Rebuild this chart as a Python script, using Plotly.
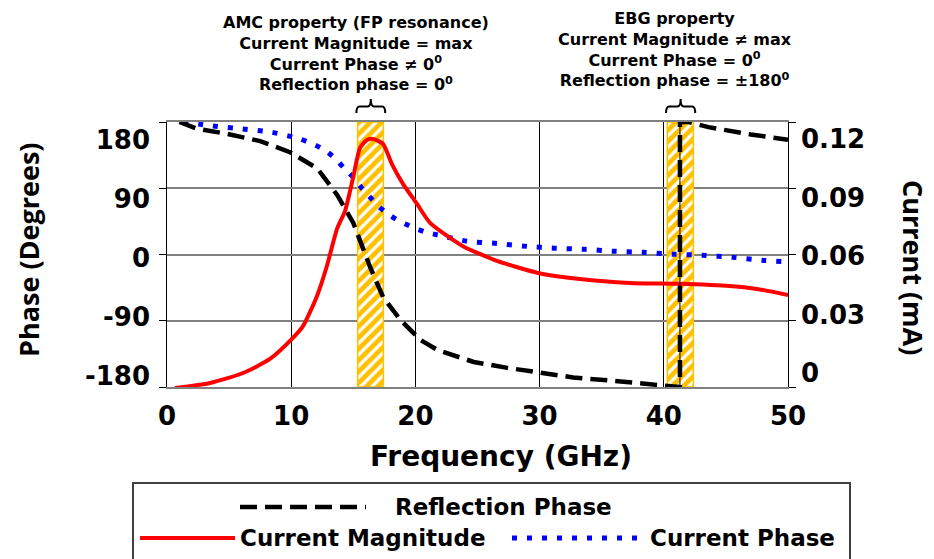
import plotly.graph_objects as go

# ---------------- data ----------------
freq_refl = [1.0, 2.4, 4.8, 7.5, 9.9, 12.1, 13.7, 15.0, 16.35, 17.4, 18.8, 20.4, 21.8,
             24.7, 27.4, 30.1, 32.7, 35.5, 38.4, 40.8, 41.3, 41.3, 42.0, 43.6, 47.0, 50.0]
refl_phase = [180, 171, 164, 154, 139, 117, 81, 43, -17, -58, -89, -116, -130,
              -146, -154, -161, -167, -171, -175, -179, -180, 180, 180, 173, 163, 156]

freq_mag = [0.64, 3.46, 6.12, 8.29, 10.14, 10.95, 12.08, 12.88, 13.69, 14.33, 14.98, 15.54,
            16.1, 16.59, 17.39, 18.12, 19.0, 20.13, 21.18, 23.83, 26.57, 29.87, 33.25,
            37.28, 41.14, 45.33, 47.5, 50.0]
cur_mag = [-0.0077, -0.0051, 0.0, 0.0072, 0.018, 0.024, 0.0395, 0.055, 0.0739, 0.083, 0.100,
           0.1154, 0.1195, 0.120, 0.1175, 0.107, 0.097, 0.0867, 0.077, 0.065, 0.0575, 0.0513,
           0.0482, 0.0462, 0.0457, 0.0446, 0.0431, 0.040]

freq_cph = [1.3, 3.7, 6.1, 8.45, 10.7, 11.75, 12.7, 13.5, 14.25, 14.98, 15.6, 16.26, 16.99,
            17.8, 18.68, 19.73, 20.77, 21.8, 24.15, 26.57, 29.0, 31.2, 33.66, 35.9, 38.3,
            40.7, 43.1, 45.5, 47.9, 49.5]
cur_phase = [180, 174.6, 170.5, 166, 157, 150, 142, 131, 117.5, 105, 92, 79.5, 66,
             55, 45.5, 37.4, 30.6, 26.5, 18, 15, 11, 8.6, 7, 4.5, 3,
             0.4, -1, -3.7, -7.8, -9.5]

amc_band = [15.35, 17.42]
ebg_band = [40.28, 42.38]
ebg_freq = 41.3

x_ticks = [0, 10, 20, 30, 40, 50]
phase_ticks = [-180, -90, 0, 90, 180]
phase_tick_text = ["-180", "-90", "0", "90", "180"]
current_ticks = [0, 0.03, 0.06, 0.09, 0.12]
current_tick_text = ["0", "0.03", "0.06", "0.09", "0.12"]

amc_lines = ["AMC property (FP resonance)", "Current Magnitude = max",
             "Current Phase \u2260 0<sup>0</sup>", "Reflection phase = 0<sup>0</sup>"]
ebg_lines = ["EBG property", "Current Magnitude \u2260 max",
             "Current Phase = 0<sup>0</sup>", "Reflection phase = \u00b1180<sup>0</sup>"]

legend_names = ["Reflection Phase", "Current Magnitude", "Current Phase"]

# ---------------- layout geometry ----------------
W, H = 934, 559
L, R, T, B = 167, 146, 122, 172
PW, PH = W - L - R, H - T - B


def px(xp):
    return (xp - L) / PW


def py(yp):
    return (T + PH - yp) / PH


BLACK_DASH = dict(color="black", width=4.5, dash="17px,8px")
RED_LINE = dict(color="#FF0000", width=4)
BLUE_DOT = dict(color="#0000FF", width=5, dash="5px,10px")
HATCH = "#FFC000"

fig = go.Figure()

# hatched bands
for band in (amc_band, ebg_band):
    fig.add_trace(go.Scatter(
        x=[band[0], band[1], band[1], band[0], band[0]],
        y=[-180, -180, 180, 180, -180],
        mode="lines", fill="toself",
        line=dict(color=HATCH, width=1.5),
        fillcolor="white",
        fillpattern=dict(shape="/", fgcolor=HATCH, fgopacity=1, bgcolor="white",
                         size=8, solidity=0.6),
        showlegend=False, hoverinfo="skip"))

fig.add_trace(go.Scatter(x=freq_cph, y=cur_phase, mode="lines",
                         line=dict(**BLUE_DOT, shape="spline", smoothing=0.6),
                         name=legend_names[2], showlegend=False))
fig.add_trace(go.Scatter(x=freq_mag, y=cur_mag, mode="lines",
                         line=dict(**RED_LINE, shape="spline", smoothing=0.6),
                         name=legend_names[1], yaxis="y2", showlegend=False))
fig.add_trace(go.Scatter(x=freq_refl, y=refl_phase, mode="lines", line=BLACK_DASH,
                         name=legend_names[0], showlegend=False))
# carrier for the left label axis
fig.add_trace(go.Scatter(x=[None], y=[None], yaxis="y3", showlegend=False, hoverinfo="skip"))

tick_font = dict(family="DejaVu Sans", size=26, color="black", weight="bold")
text_font = dict(family="DejaVu Sans", size=16, color="black", weight="bold")
xtitle_font = dict(family="DejaVu Sans", size=28, color="black", weight="bold")
ytitle_font = dict(family="Open Sans", size=27, color="black", weight="bold")
leg_font = dict(family="DejaVu Sans", size=23, color="black", weight="bold")

shapes = []
# thin vertical line at EBG frequency
shapes.append(dict(type="line", xref="x", yref="y", x0=ebg_freq, x1=ebg_freq,
                   y0=-180, y1=180, line=dict(color="black", width=1)))

# braces
for band in (amc_band, ebg_band):
    x0, x1 = band[0] - 0.1, band[1] + 0.15
    xm = (x0 + x1) / 2
    d = 0.25
    ye, yb, yp = py(113), py(106.5), py(99)
    path = (f"M {x0},{ye} Q {x0},{yb} {x0 + d},{yb} L {xm - d},{yb} Q {xm},{yb} {xm},{yp} "
            f"Q {xm},{yb} {xm + d},{yb} L {x1 - d},{yb} Q {x1},{yb} {x1},{ye}")
    shapes.append(dict(type="path", xref="x", yref="paper", path=path,
                       line=dict(color="black", width=2)))

# legend box + samples
shapes.append(dict(type="rect", xref="paper", yref="paper", x0=px(133), x1=px(850),
                   y0=py(575), y1=py(483), line=dict(color="#404040", width=2),
                   fillcolor="rgba(0,0,0,0)"))
shapes.append(dict(type="line", xref="paper", yref="paper", x0=px(240), x1=px(366),
                   y0=py(507), y1=py(507), line=BLACK_DASH))
shapes.append(dict(type="line", xref="paper", yref="paper", x0=px(140), x1=px(235),
                   y0=py(538), y1=py(538), line=RED_LINE))
shapes.append(dict(type="line", xref="paper", yref="paper", x0=px(512), x1=px(640),
                   y0=py(538), y1=py(538), line=BLUE_DOT))

annotations = []
annotations.append(dict(text="<br>".join(amc_lines), xref="paper", yref="paper",
                        x=px(356), y=py(53), xanchor="center", yanchor="middle",
                        showarrow=False, font=text_font, align="center"))
annotations.append(dict(text="<br>".join(ebg_lines), xref="paper", yref="paper",
                        x=px(675), y=py(49), xanchor="center", yanchor="middle",
                        showarrow=False, font=text_font, align="center"))

# axis titles
annotations.append(dict(text="Frequency (GHz)", xref="paper", yref="paper", x=px(501), y=py(456),
                        xanchor="center", yanchor="middle", showarrow=False, font=xtitle_font))
annotations.append(dict(text="Phase (Degrees)", xref="paper", yref="paper", x=px(28), y=py(250),
                        xanchor="center", yanchor="middle", showarrow=False, textangle=-90,
                        font=ytitle_font))
annotations.append(dict(text="Current (mA)", xref="paper", yref="paper", x=px(914), y=py(267),
                        xanchor="center", yanchor="middle", showarrow=False, textangle=90,
                        font=ytitle_font))

# legend texts
annotations.append(dict(text=legend_names[0], xref="paper", yref="paper", x=px(393), y=py(507),
                        xanchor="left", yanchor="middle", showarrow=False, font=leg_font))
annotations.append(dict(text=legend_names[1], xref="paper", yref="paper", x=px(238), y=py(538),
                        xanchor="left", yanchor="middle", showarrow=False, font=leg_font))
annotations.append(dict(text=legend_names[2], xref="paper", yref="paper", x=px(648), y=py(538),
                        xanchor="left", yanchor="middle", showarrow=False, font=leg_font))

fig.update_layout(
    width=W, height=H,
    margin=dict(l=L, r=R, t=T, b=B),
    paper_bgcolor="white", plot_bgcolor="white",
    showlegend=False,
    xaxis=dict(range=[0, 50], tickvals=x_ticks, showgrid=True, gridcolor="black", gridwidth=1,
               zeroline=False, showline=True, linecolor="#808080", linewidth=2, mirror=True,
               ticks="", tickfont=tick_font, ticklabelstandoff=5),
    yaxis=dict(range=[-180, 180], tickvals=phase_ticks, showgrid=True, gridcolor="#808080",
               gridwidth=2, zeroline=False, showline=True, linecolor="black", linewidth=1,
               mirror="ticks", ticks="outside", ticklen=7, tickcolor="black",
               showticklabels=False),
    yaxis2=dict(range=[-0.00718, 0.1287], tickvals=current_ticks, ticktext=current_tick_text,
                overlaying="y", side="right", anchor="x", showgrid=False, zeroline=False,
                showline=False, ticks="", tickfont=tick_font, ticklabelstandoff=12),
    yaxis3=dict(range=[-196.8, 207.5], tickvals=phase_ticks, ticktext=phase_tick_text,
                overlaying="y", side="left", anchor="x", showgrid=False, zeroline=False,
                showline=False, ticks="", tickfont=tick_font, ticklabelstandoff=16),
    shapes=shapes,
    annotations=annotations,
)

fig.write_html("out.html")
